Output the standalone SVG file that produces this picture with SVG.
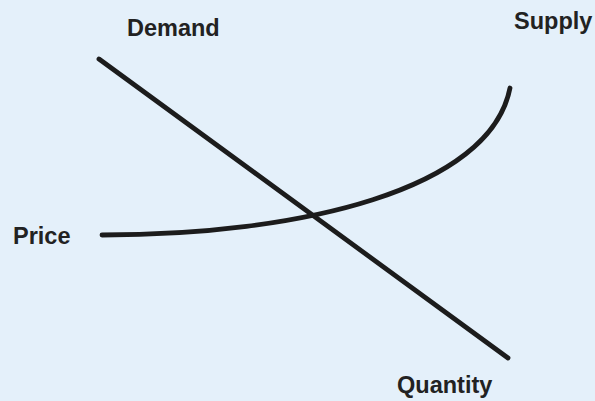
<svg xmlns="http://www.w3.org/2000/svg" width="595" height="401" viewBox="0 0 595 401">
<style>
.lbl{font-family:"Liberation Sans",Arial,sans-serif;font-weight:bold;font-size:23.5px;fill:#222}
.ln{fill:none;stroke:#1c1c1c;stroke-width:4.8;stroke-linecap:round}
</style>
<rect width="595" height="401" fill="#e4f0fa"/>
<g id="curves">
<path id="demand-line" class="ln" d="M99,59 L508,358"/>
<path id="supply-curve" class="ln" d="M102,235 C300,235 490,190 510,88"/>
</g>
<g id="labels">
<text class="lbl" x="127" y="36">Demand</text>
<text class="lbl" x="514" y="29">Supply</text>
<text class="lbl" x="13" y="244">Price</text>
<text class="lbl" x="397" y="393">Quantity</text>
</g>
</svg>
